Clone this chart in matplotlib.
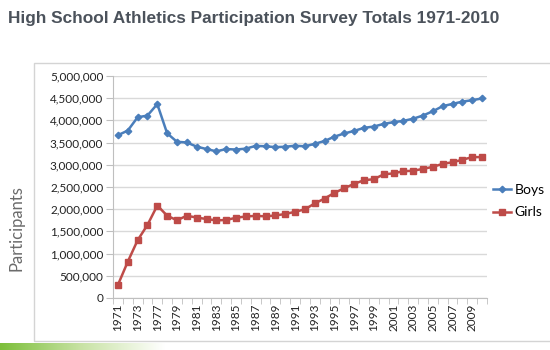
import numpy as np
import matplotlib.pyplot as plt
from matplotlib.patches import Rectangle
from matplotlib.ticker import FuncFormatter

# school years (first year of season), NFHS survey skips 1974 and 1976
years = [1971, 1972, 1973, 1975, 1977, 1978, 1979, 1980, 1981, 1982,
         1983, 1984, 1985, 1986, 1987, 1988, 1989, 1990, 1991, 1992,
         1993, 1994, 1995, 1996, 1997, 1998, 1999, 2000, 2001, 2002,
         2003, 2004, 2005, 2006, 2007, 2008, 2009, 2010]

boys = [3666917, 3770621, 4070125, 4109021, 4367442, 3709512, 3517829,
        3503124, 3409081, 3355558, 3303599, 3354284, 3344275, 3364082,
        3425777, 3416844, 3398192, 3406355, 3429853, 3416389, 3472967,
        3536359, 3634052, 3706225, 3763120, 3832352, 3861749, 3921069,
        3960517, 3988738, 4038253, 4110319, 4206549, 4321103, 4372115,
        4422662, 4455740, 4494406]

girls = [294015, 817073, 1300169, 1645039, 2083040, 1854400, 1750264,
         1853789, 1810671, 1779972, 1747346, 1757884, 1807121, 1836356,
         1849684, 1839352, 1858659, 1892316, 1940801, 1997489, 2130315,
         2240461, 2367936, 2474043, 2570333, 2652726, 2675874, 2784154,
         2806998, 2856358, 2865299, 2908390, 2953355, 3021807, 3057266,
         3114091, 3172637, 3173549]

title = "High School Athletics Participation Survey Totals 1971-2010"

fig = plt.figure(figsize=(5.5, 3.5), dpi=100)

# chart frame (runs off the right edge like the slide)
fig.patches.append(Rectangle((34 / 550, 1 - 341 / 350), 1.05, (341 - 63) / 350,
                             transform=fig.transFigure, fill=False,
                             edgecolor="#d4d4d4", lw=1))

ax = fig.add_axes([113 / 550, 1 - 298 / 350, (487 - 113) / 550, (298 - 76) / 350])

x = np.arange(len(years))
ax.plot(x, boys, color="#4a7ebb", lw=1.8, marker="D", ms=3.3, label="Boys")
ax.plot(x, girls, color="#be4b48", lw=1.8, marker="s", ms=4.3, label="Girls")

ax.set_xlim(-0.5, len(years) - 0.5)
ax.set_ylim(0, 5000000)
ax.set_yticks(np.arange(0, 5000001, 500000))
ax.yaxis.set_major_formatter(FuncFormatter(lambda v, p: f"{int(v):,}"))
ax.grid(axis="y", color="#d9d9d9", lw=1)
ax.set_axisbelow(True)

ax.set_xticks(x[::2])
ax.set_xticklabels([str(y) for y in years[::2]], rotation=90, family="Lato",
                   fontsize=8.5, color="#222222")
ax.set_xticks(np.arange(-0.5, len(years), 1), minor=True)
ax.tick_params(axis="x", which="major", length=0, pad=4)
ax.tick_params(axis="x", which="minor", length=4, color="#bfbfbf")
ax.tick_params(axis="y", length=5, color="#bfbfbf", labelsize=8.5,
               labelcolor="#222222", pad=2)
for lab in ax.get_yticklabels():
    lab.set_family("Lato")

for s in ["top", "right"]:
    ax.spines[s].set_visible(False)
for s in ["left", "bottom"]:
    ax.spines[s].set_color("#bfbfbf")

fig.legend(loc="upper left", bbox_to_anchor=(493 / 550, 1 - 184 / 350), frameon=False,
           prop={"family": "Lato", "size": 10}, handlelength=1.3,
           handletextpad=0.25, labelspacing=0.75, borderpad=0, borderaxespad=0)

fig.text(8 / 550, 1 - 19 / 350, title, family="Liberation Sans", weight="bold",
         fontsize=12.4, color="#4b525b", va="center", ha="left")
fig.text(17 / 550, 1 - 228 / 350, "Participants", rotation=90, family="Lato",
         fontsize=12, color="#6b6b6b", va="center", ha="center")

# green decoration at bottom left
gax = fig.add_axes([0, 0, 0.3, 7 / 350])
grad = np.linspace(0, 1, 256).reshape(1, -1)
gax.imshow(grad, aspect="auto", cmap=plt.matplotlib.colors.LinearSegmentedColormap.from_list(
    "g", ["#7cbf3a", "#c9e3a6", "#ffffff"]))
gax.axis("off")

fig.savefig("out.png", dpi=100)
